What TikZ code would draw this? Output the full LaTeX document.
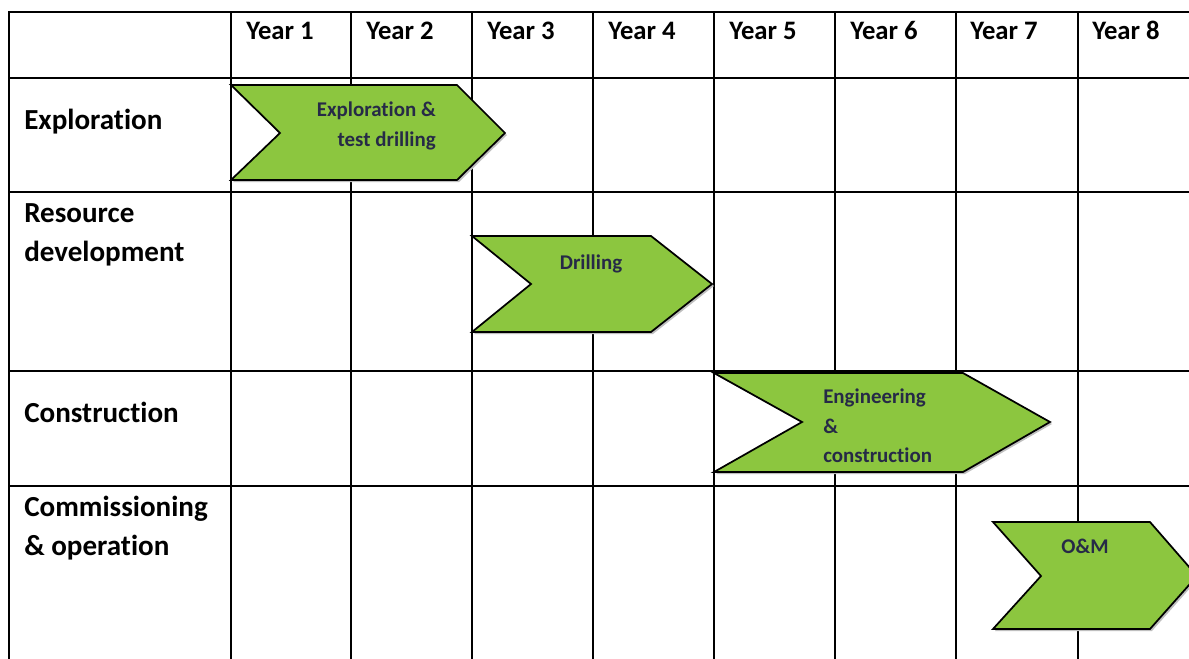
\documentclass[tikz,border=0pt]{standalone}
\usepackage{fontspec}
\setmainfont[Ligatures={NoCommon}]{Carlito}
\definecolor{chevgreen}{RGB}{140,198,63}
\definecolor{chevtext}{RGB}{38,42,71}
\begin{document}
\begin{tikzpicture}[x=0.75pt,y=-0.75pt,
  gridline/.style={line width=2.2pt,black},
  chev/.style={fill=chevgreen,draw=black,line width=1.3pt,line join=miter},
  chevshadow/.style={fill=black!25,draw=none},
  hdr/.style={anchor=base west,inner sep=0pt,font=\fontsize{20}{24}\selectfont\bfseries},
  rowlbl/.style={anchor=base west,inner sep=0pt,font=\fontsize{21.8}{26}\selectfont\bfseries},
  chevtxt/.style={inner sep=0pt,text=chevtext,font=\fontsize{15.7}{19}\selectfont\bfseries}]
\useasboundingbox (0,0) rectangle (1189,658);
\clip (0,0) rectangle (1189,658);
\fill[white] (0,0) rectangle (1189,658);
% grid
\foreach \yy in {12,78,192,371,486} \draw[gridline] (9,\yy) -- (1192,\yy);
\foreach \xx in {9,231,351,472,593,714,835,956,1078} \draw[gridline] (\xx,11) -- (\xx,660);
% headers
\node[hdr] (y1) at (246,39) {Year 1};
\node[hdr] (y2) at (366,39) {Year 2};
\node[hdr] (y3) at (487,39) {Year 3};
\node[hdr] (y4) at (608,39) {Year 4};
\node[hdr] (y5) at (729,39) {Year 5};
\node[hdr] (y6) at (850,39) {Year 6};
\node[hdr] (y7) at (970,39) {Year 7};
\node[hdr] (y8) at (1092,39) {Year 8};
% row labels
\node[rowlbl] (r1) at (24,129) {Exploration};
\node[rowlbl] (r2a) at (24,222) {Resource};
\node[rowlbl] (r2b) at (24,261) {development};
\node[rowlbl] (r3) at (24,422) {Construction};
\node[rowlbl] (r4a) at (24,516) {Commissioning};
\node[rowlbl] (r4b) at (24,555) {\&\ operation};
% chevrons
\fill[chevshadow] (233,87) -- (459,87) -- (507,135) -- (459,182) -- (233,182) -- (282,135) -- cycle;
\draw[chev] (231,85) -- (457,85) -- (505,133) -- (457,180) -- (231,180) -- (280,133) -- cycle;
\fill[chevshadow] (474,238) -- (653,238) -- (714,286) -- (653,334) -- (474,334) -- (533,286) -- cycle;
\draw[chev] (472,236) -- (651,236) -- (712,284) -- (651,332) -- (472,332) -- (531,284) -- cycle;
\fill[chevshadow] (716,375) -- (965,375) -- (1052,424) -- (965,474) -- (716,474) -- (804,424) -- cycle;
\draw[chev] (714,373) -- (963,373) -- (1050,422) -- (963,472) -- (714,472) -- (802,422) -- cycle;
\fill[chevshadow] (995,524) -- (1152,524) -- (1199,578) -- (1152,631) -- (995,631) -- (1043,578) -- cycle;
\draw[chev] (993,522) -- (1150,522) -- (1197,576) -- (1150,629) -- (993,629) -- (1041,576) -- cycle;
% chevron texts
\node[chevtxt,anchor=base east] (t1a) at (436,116) {Exploration \&};
\node[chevtxt,anchor=base east] (t1b) at (436,146) {test drilling};
\node[chevtxt,anchor=base] (t2) at (591,269) {Drilling};
\node[chevtxt,anchor=base west] (t3a) at (823,403) {Engineering};
\node[chevtxt,anchor=base west] (t3b) at (823,433) {\&};
\node[chevtxt,anchor=base west] (t3c) at (823,462) {construction};
\node[chevtxt,anchor=base] (t4) at (1085,553) {O\&M};
\end{tikzpicture}
\end{document}
